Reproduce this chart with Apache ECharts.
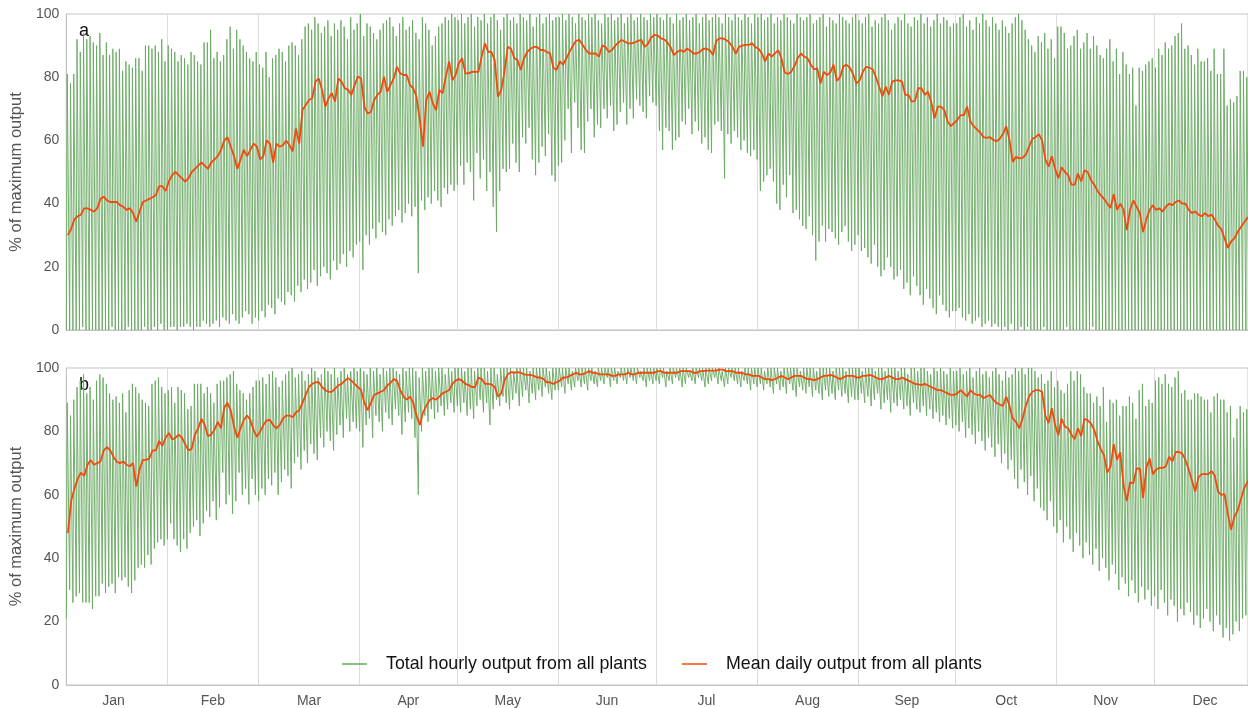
<!DOCTYPE html>
<html>
<head>
<meta charset="utf-8">
<script src="https://cdn.jsdelivr.net/npm/echarts@6/dist/echarts.min.js"></script>
<style>
  html, body { margin: 0; padding: 0; background: #fff; }
  #chart { width: 1248px; height: 708px; }
</style>
</head>
<body>
<div id="chart"></div>
<script>
const monthNames = ['Jan', 'Feb', 'Mar', 'Apr', 'May', 'Jun', 'Jul', 'Aug', 'Sep', 'Oct', 'Nov', 'Dec']
const monthStarts = [31, 59, 90, 120, 151, 181, 212, 243, 273, 304, 334]
const monthMids = [14.5, 45, 74.5, 105, 135.5, 166, 196.5, 227.5, 258, 288.5, 319, 349.5]

// panel a: daily high / low of the hourly output and the mean daily output (% of max)
const hiA = [
  81, 78, 81, 92, 88, 94, 92, 93, 91, 90, 94, 87, 91, 87, 89, 88, 89, 82, 85, 84, 83, 86, 86, 82, 90, 90, 89, 90, 88, 92, 85,
  90, 89, 88, 85, 87, 86, 84, 88, 87, 85, 84, 91, 91, 95, 86, 88, 85, 87, 92, 96, 89, 95, 92, 90, 88, 86, 85, 88,
  84, 83, 88, 80, 86, 87, 89, 88, 85, 90, 91, 90, 87, 92, 96, 97, 95, 99, 97, 94, 96, 98, 93, 97, 95, 98, 96, 92, 99, 95, 97,
  100, 93, 97, 96, 94, 92, 95, 97, 98, 99, 96, 93, 97, 99, 95, 96, 98, 94, 92, 99, 97, 95, 90, 93, 96, 97, 99, 98, 100, 99,
  98, 100, 97, 99, 100, 96, 99, 98, 100, 97, 99, 100, 98, 95, 99, 100, 98, 99, 97, 100, 99, 98, 100, 96, 99, 100, 97, 99, 100, 98, 99,
  99, 100, 98, 100, 99, 97, 100, 99, 98, 100, 99, 100, 98, 97, 100, 99, 100, 98, 99, 100, 97, 99, 100, 98, 99, 100, 99, 98, 100, 99,
  100, 99, 98, 100, 99, 97, 100, 98, 99, 100, 98, 99, 100, 97, 99, 100, 98, 99, 100, 99, 97, 100, 99, 98, 100, 99, 98, 100, 99, 97, 100,
  99, 100, 98, 99, 100, 97, 99, 98, 100, 99, 98, 97, 100, 99, 98, 99, 100, 97, 98, 99, 100, 96, 99, 98, 97, 100, 99, 98, 97, 99, 100,
  98, 97, 99, 100, 96, 98, 97, 99, 100, 98, 95, 97, 99, 98, 100, 97, 96, 99, 98, 100, 97, 99, 96, 98, 100, 97, 99, 98, 96, 97,
  97, 99, 100, 96, 98, 95, 99, 97, 100, 98, 96, 99, 97, 95, 98, 96, 94, 97, 99, 100, 98, 95, 92, 90, 88, 93, 91, 94, 89, 92, 86,
  96, 96, 94, 89, 90, 93, 95, 89, 91, 94, 89, 93, 90, 87, 86, 89, 92, 85, 89, 81, 88, 84, 81, 83, 71, 83, 82, 84, 85, 86,
  83, 89, 87, 91, 89, 90, 93, 94, 97, 89, 90, 87, 84, 89, 85, 85, 86, 82, 89, 81, 81, 89, 71, 73, 72, 74, 82, 82, 80, 82, 80
]
const loA = [
  0, 0, 0, 0, 0, 1, 0, 0, 0, 0, 0, 0, 0, 0, 1, 0, 0, 0, 0, 1, 0, 0, 0, 0, 1, 0, 0, 1, 0, 2, 0,
  0, 1, 1, 0, 1, 1, 2, 1, 0, 1, 1, 3, 2, 1, 2, 3, 1, 4, 3, 2, 5, 3, 2, 4, 6, 5, 2, 4,
  3, 6, 4, 8, 7, 5, 10, 9, 8, 12, 11, 9, 14, 12, 16, 13, 15, 19, 14, 17, 20, 18, 16, 22, 19, 21, 24, 20, 25, 23, 27,
  28, 19, 30, 27, 32, 29, 34, 31, 30, 35, 33, 36, 38, 34, 37, 40, 36, 39, 18, 41, 38, 42, 40, 44, 41, 39, 45, 43, 46, 44,
  46, 52, 46, 53, 50, 41, 56, 48, 54, 44, 50, 39, 31, 44, 51, 50, 51, 59, 53, 50, 61, 59, 64, 54, 49, 53, 58, 55, 62, 49, 47,
  52, 53, 60, 70, 56, 72, 64, 57, 56, 66, 70, 61, 65, 64, 70, 67, 71, 63, 65, 69, 72, 65, 70, 67, 73, 71, 69, 67, 74, 72,
  71, 63, 57, 64, 63, 57, 60, 61, 66, 65, 70, 62, 66, 63, 59, 61, 57, 56, 65, 66, 63, 48, 62, 59, 63, 61, 57, 60, 56, 55, 57,
  54, 44, 47, 49, 51, 47, 40, 38, 46, 42, 49, 37, 38, 35, 33, 32, 36, 30, 22, 28, 33, 28, 32, 31, 29, 27, 31, 33, 28, 25, 27,
  30, 25, 26, 23, 21, 27, 20, 17, 19, 23, 20, 16, 17, 19, 13, 15, 11, 17, 14, 11, 8, 13, 10, 7, 5, 11, 8, 6, 4, 6,
  6, 7, 4, 3, 5, 2, 3, 4, 1, 2, 3, 1, 2, 1, 0, 1, 0, 2, 0, 0, 1, 0, 1, 0, 0, 0, 0, 1, 0, 0, 0,
  0, 0, 0, 1, 0, 0, 0, 0, 0, 0, 0, 1, 0, 0, 0, 0, 0, 0, 0, 0, 0, 0, 0, 0, 0, 0, 0, 0, 0, 0,
  0, 0, 0, 0, 0, 0, 0, 0, 0, 0, 0, 0, 0, 0, 0, 0, 0, 0, 0, 0, 0, 0, 0, 0, 0, 0, 0, 0, 0, 0, 0
]
const meanA = [
  30, 32, 35, 36, 36.5, 38.5, 38.5, 38, 37.5, 38.5, 41.5, 42.2, 41, 40.5, 40.5, 40.5, 39.5, 39, 38, 38.5, 37, 34.3, 37.5, 40.5, 41, 41.5, 42, 42.7, 45.5, 45.5, 44,
  47, 49, 50, 49, 48, 47, 48, 50, 51, 52, 53, 52, 51, 53, 54, 55, 57, 60, 61, 58, 55, 51, 54, 57, 55, 57, 59, 58,
  54, 55, 60, 59, 53, 59, 58, 58.5, 60, 58.5, 56.5, 63.8, 59, 69.6, 71.2, 72.8, 73.3, 78.6, 79.6, 76, 70.7, 73.3, 75, 72.3, 79.6, 78.6, 76.5, 76, 74.4, 77.5, 80.2,
  79.6, 70.7, 68.5, 69, 72.8, 74.4, 75.4, 80.2, 75.4, 77.5, 79.6, 83.3, 81.2, 80.7, 80.7, 77.5, 76.5, 73.8, 66.5, 58, 72.8, 75.4, 71.7, 69.6, 76, 74.9, 80.2, 85, 79, 80.7,
  84.4, 86, 81.2, 81.2, 81.7, 81.7, 81.7, 86.5, 90.7, 88, 88, 85.4, 73.8, 76, 81.7, 89.6, 89, 86, 85.4, 82.3, 86, 88, 89, 89.6, 89.6, 88.6, 88.6, 88, 87.5, 83, 82.3,
  85, 84, 86, 88, 90, 91.5, 91.8, 90.2, 88.6, 87.5, 87.5, 87.5, 86.5, 90, 89.6, 88, 88.6, 90, 91, 91.8, 91.2, 90.7, 90.7, 91, 91.5, 91.8, 89.6, 90.5, 92.5, 93.4,
  93.2, 92.3, 92, 91, 89.5, 87, 88, 88.6, 88, 89, 88.5, 87.5, 87.5, 88, 89, 89, 88.5, 87, 91.5, 92.3, 92.3, 91.8, 91, 89.6, 87.5, 89.6, 90, 90.2, 90.2, 90.7, 89.5,
  89, 87.5, 85, 87.5, 86.5, 87.5, 88.6, 86, 81.5, 81, 81.7, 83.5, 86, 87.5, 86.5, 86, 84, 82.5, 82.8, 78, 81.7, 80.7, 81.5, 84, 78.8, 80, 83.5, 83.9, 83, 81, 78,
  79, 81.7, 83.3, 83, 82.5, 80, 77, 74, 77, 74.4, 78.6, 79, 79, 78.6, 74.4, 74.4, 72.3, 72.5, 76.5, 76.5, 74.4, 75.4, 72, 67, 70.7, 70.7, 69.6, 66, 64.5, 65.5,
  66.5, 68, 68, 70.7, 66, 64.5, 63.5, 62.5, 61, 60.8, 61, 60.2, 59.7, 60.5, 62, 64.5, 60, 53.2, 54.8, 54.3, 54.5, 55.5, 58, 60.5, 61, 62, 60, 54, 51.7, 55, 51,
  48, 51.5, 50, 49, 46, 46, 49.5, 47, 50.5, 50, 47.5, 46, 44, 42.7, 41.5, 40, 38.6, 43, 38, 40, 38, 31.6, 38, 41, 39, 37, 31, 35, 38, 39.5,
  38, 38.5, 37.5, 39, 40, 39.5, 40.5, 41, 40, 40, 38, 37, 37.5, 36.5, 36, 37, 36, 36.5, 35, 33, 32, 29, 26, 28, 29, 31, 32.5, 34, 35.5, 36, 37
]

// panel b
const hiB = [
  89, 85, 90, 94, 96, 98, 92, 94, 90, 96, 98, 97, 95, 92, 90, 91, 89, 92, 86, 93, 95, 94, 92, 90, 89, 88, 95, 96, 97, 94, 92,
  93, 94, 89, 94, 93, 92, 87, 88, 95, 95, 95, 92, 94, 92, 89, 95, 96, 96, 97, 98, 99, 95, 93, 92, 90, 92, 94, 96,
  96, 97, 95, 98, 99, 97, 94, 96, 98, 99, 100, 97, 98, 99, 96, 98, 100, 99, 97, 98, 100, 99, 98, 100, 97, 99, 100, 98, 99, 100, 99,
  100, 99, 98, 100, 99, 100, 98, 100, 99, 100, 100, 99, 98, 100, 99, 100, 100, 99, 97, 100, 99, 100, 100, 99, 100, 100, 98, 100, 99, 100,
  100, 100, 99, 100, 100, 99, 100, 100, 100, 99, 100, 100, 98, 100, 100, 100, 100, 99, 100, 100, 100, 100, 99, 100, 100, 100, 100, 100, 99, 100, 100,
  100, 100, 100, 100, 99, 100, 100, 100, 100, 100, 100, 99, 100, 100, 100, 100, 100, 100, 99, 100, 100, 100, 100, 100, 100, 99, 100, 100, 100, 100,
  100, 100, 100, 99, 100, 100, 100, 100, 100, 100, 99, 100, 100, 100, 100, 100, 100, 100, 100, 100, 99, 100, 100, 100, 100, 100, 99, 100, 100, 100, 100,
  100, 100, 99, 100, 100, 100, 100, 99, 100, 100, 100, 100, 100, 99, 100, 100, 100, 100, 99, 100, 100, 100, 100, 99, 100, 100, 100, 99, 100, 100, 100,
  100, 99, 100, 100, 100, 99, 100, 100, 99, 100, 100, 100, 99, 100, 100, 98, 100, 100, 99, 100, 100, 99, 98, 100, 99, 100, 99, 98, 100, 99,
  99, 100, 98, 99, 100, 97, 99, 100, 98, 99, 97, 99, 100, 98, 96, 99, 97, 98, 100, 99, 100, 98, 100, 100, 99, 97, 98, 95, 96, 99, 94,
  96, 93, 92, 95, 99, 96, 99, 98, 94, 92, 92, 89, 91, 88, 94, 83, 90, 89, 90, 85, 88, 88, 91, 89, 84, 93, 95, 88, 90, 89,
  96, 97, 95, 98, 95, 94, 97, 99, 92, 93, 90, 90, 92, 92, 91, 90, 90, 86, 91, 92, 90, 90, 86, 88, 78, 84, 88, 86, 87, 86, 86
]
const loB = [
  21, 30, 26, 28, 29, 26, 26, 26, 24, 28, 28, 32, 29, 31, 32, 29, 34, 33, 34, 31, 29, 33, 37, 38, 37, 41, 38, 43, 45, 46, 44,
  46, 51, 46, 44, 42, 46, 43, 48, 50, 52, 47, 51, 55, 53, 58, 52, 56, 67, 57, 60, 54, 58, 67, 60, 62, 57, 65, 60,
  58, 62, 60, 65, 63, 67, 60, 64, 68, 66, 62, 70, 72, 68, 74, 70, 76, 73, 71, 78, 75, 80, 77, 74, 79, 82, 78, 84, 80, 83, 81,
  80, 75, 82, 84, 78, 85, 83, 80, 86, 84, 82, 87, 85, 79, 83, 86, 84, 78, 60, 80, 85, 83, 87, 84, 86, 88, 85, 87, 89, 86,
  88, 86, 89, 85, 87, 84, 88, 90, 86, 89, 82, 87, 90, 88, 91, 89, 87, 90, 92, 88, 91, 93, 89, 92, 90, 93, 91, 94, 92, 90, 93,
  93, 94, 92, 95, 93, 94, 96, 94, 95, 93, 96, 95, 94, 96, 95, 97, 94, 96, 95, 97, 96, 95, 97, 96, 95, 97, 96, 94, 96, 95,
  96, 95, 97, 94, 96, 95, 97, 96, 94, 95, 97, 96, 95, 97, 96, 94, 95, 96, 97, 95, 96, 94, 95, 97, 96, 95, 94, 96, 95, 93, 95,
  94, 95, 93, 95, 94, 92, 95, 93, 94, 92, 95, 93, 91, 94, 93, 92, 94, 91, 93, 92, 90, 93, 91, 92, 90, 93, 91, 92, 89, 91, 90,
  90, 92, 89, 91, 88, 90, 92, 87, 89, 90, 86, 89, 88, 90, 87, 88, 85, 89, 87, 86, 88, 85, 87, 84, 86, 83, 85, 82, 84, 81,
  82, 80, 83, 78, 81, 79, 76, 80, 77, 74, 78, 75, 72, 76, 70, 73, 68, 71, 65, 62, 68, 64, 60, 66, 58, 62, 56, 55, 52, 58, 50,
  48, 52, 45, 50, 46, 42, 48, 44, 40, 45, 41, 38, 43, 36, 40, 37, 33, 38, 35, 30, 34, 32, 28, 33, 29, 26, 31, 27, 30, 25,
  28, 24, 30, 26, 22, 27, 25, 20, 24, 22, 26, 23, 19, 22, 18, 21, 24, 20, 17, 22, 19, 15, 18, 14, 16, 20, 17, 21, 22, 20, 21
]
const meanB = [
  48, 58, 62, 65, 67, 66, 69.4, 71, 69.5, 70, 70.5, 74, 75, 74, 72, 70.4, 70, 70.5, 69.5, 69, 70, 62.6, 68, 71, 71, 71.5, 74, 74, 77, 75.5, 78,
  79.5, 77.5, 78, 79, 78, 76, 74, 74.5, 79, 81, 84, 82, 78.5, 79, 80.5, 83, 81, 87.5, 89, 86.5, 81.5, 78, 81, 83.6, 85, 83.6, 80.4, 78.3,
  80, 82, 83.5, 83.6, 82, 81, 82, 84, 85, 85, 84.5, 86, 86.7, 89, 91.5, 94, 95, 95.5, 95.5, 94, 93, 92.5, 92.5, 93.5, 94.5, 95, 96, 96.8, 96, 95, 94,
  93, 89, 86.7, 89, 91.5, 92, 92.5, 93, 94.5, 95.3, 96.5, 96, 93, 91, 90, 91, 89, 85, 82, 86, 88, 89.9, 90.5, 90, 91, 92, 92.5, 93, 95, 96,
  96.5, 96, 95, 94.6, 94, 94, 97, 96.5, 95, 95, 94.8, 94, 91, 92, 96, 98, 98.7, 98.5, 98.7, 98.5, 98, 97.8, 97.8, 97.5, 97, 97, 96.5, 95.5, 95.5, 95, 95.5,
  96, 97, 97, 97.5, 98, 98.5, 98, 98, 98.5, 99, 98.5, 98.5, 98, 98, 98, 98, 97.5, 97.5, 98, 98, 98, 98.5, 98, 98, 98.5, 98.5, 98.5, 98.5, 98.5, 98.5,
  99, 99, 98.5, 98.5, 98.5, 98.5, 98.5, 99, 99, 99, 99, 98.5, 98.5, 99, 99, 99.2, 99.2, 99.2, 99.2, 99.5, 99.5, 99, 99, 99, 98.5, 98.5, 98.5, 98, 98, 97.5, 97.5,
  97.5, 97, 96.5, 96.5, 96.2, 96.5, 97, 97.5, 97, 96.5, 97, 97.5, 97.5, 97.5, 97, 96.5, 96.5, 96.2, 96.5, 97, 97.5, 97.5, 97.8, 97.5, 97, 96.5, 97, 97.5, 97.5, 97.5, 97,
  97, 97.5, 97.5, 97.8, 97.5, 97, 96.5, 96.5, 97, 97.5, 97, 96.5, 96.5, 97, 96.5, 96, 95.5, 95, 94.8, 94.6, 95, 94.5, 94, 93.5, 93, 93, 92.5, 92, 91.5, 91.5,
  92, 93, 92, 91, 93, 92, 91.5, 91.5, 90.5, 91, 91.5, 90, 89, 88.5, 88, 91, 88, 84, 83, 81, 84, 88, 91, 92.5, 93, 93, 92.5, 85, 82.6, 87.3, 82,
  78.8, 84, 81.5, 81, 79, 77.5, 81, 78.5, 84, 83.5, 82.5, 80.5, 77, 74.5, 72.5, 67, 68.9, 76, 71, 73.5, 63, 58, 64, 63.6, 68.3, 68.3, 59, 68.5, 71.5, 66.5,
  68, 68.5, 68.5, 69, 72, 70.5, 73.5, 73.5, 73, 71, 68, 64.5, 61, 65.5, 66.5, 66.5, 66.5, 67.5, 66, 61, 60, 60.2, 54, 49, 53, 55, 58.5, 62, 64, 65, 66
]

const hourlyName = 'Total hourly output from all plants'
const meanName = 'Mean daily output from all plants'
const greenColor = '#67a961'
const orangeColor = '#f2490c'
const gridColor = '#c4c4c4'
const labelColor = '#555'
const fontFamily = 'Liberation Sans, Arial, sans-serif'

// each day: a low point then the day's high
function dailySwing(lo, hi) {
  const out = []
  for (let d = 0; d < lo.length; d++) {
    out.push([d + 0.05, lo[d]])
    out.push([d + 0.3, hi[d]])
  }
  return out
}

function dailyMean(mean) {
  return mean.map((v, d) => [d + 0.5, v])
}

function xAxisFor(gridIndex, showLabels) {
  return {
    type: 'value',
    gridIndex: gridIndex,
    min: 0,
    max: 362.7,
    axisLine: { show: true, lineStyle: { color: gridColor } },
    axisTick: { show: false, customValues: monthStarts },
    splitLine: { show: true, lineStyle: { color: '#dcdcdc', width: 1 } },
    axisLabel: {
      show: showLabels,
      customValues: monthMids,
      formatter: function(v) {
        return monthNames[monthMids.indexOf(v)]
      },
      color: labelColor,
      fontSize: 14,
      fontFamily: fontFamily,
      margin: 9
    }
  }
}

function yAxisFor(gridIndex) {
  return {
    type: 'value',
    gridIndex: gridIndex,
    min: 0,
    max: 100,
    interval: 20,
    name: '% of maximum output',
    nameLocation: 'middle',
    nameGap: 36,
    nameTextStyle: { color: labelColor, fontSize: 16.5, fontFamily: fontFamily },
    axisLine: { show: true, lineStyle: { color: gridColor } },
    axisTick: { show: false },
    splitLine: { show: false },
    axisLabel: { color: labelColor, fontSize: 14, fontFamily: fontFamily, margin: 7 }
  }
}

function hourlySeries(idx, lo, hi) {
  return {
    name: hourlyName,
    type: 'line',
    xAxisIndex: idx,
    yAxisIndex: idx,
    showSymbol: false,
    symbol: 'none',
    silent: true,
    animation: false,
    z: 2,
    lineStyle: { color: greenColor, width: 1, opacity: 0.9 },
    itemStyle: { color: greenColor },
    data: dailySwing(lo, hi)
  }
}

function meanSeries(idx, mean) {
  return {
    name: meanName,
    type: 'line',
    xAxisIndex: idx,
    yAxisIndex: idx,
    showSymbol: false,
    symbol: 'none',
    silent: true,
    animation: false,
    z: 3,
    lineStyle: { color: orangeColor, width: 1.8 },
    itemStyle: { color: orangeColor },
    data: dailyMean(mean)
  }
}

const chart = echarts.init(document.getElementById('chart'), null, { renderer: 'canvas' })
chart.setOption({
  backgroundColor: '#fff',
  animation: false,
  textStyle: { fontFamily: fontFamily },
  grid: [
    { left: 66, right: -2, top: 14, height: 316, show: true, borderColor: gridColor, borderWidth: 1 },
    { left: 66, right: -2, top: 368, height: 317, show: true, borderColor: gridColor, borderWidth: 1 }
  ],
  xAxis: [xAxisFor(0, false), xAxisFor(1, true)],
  yAxis: [yAxisFor(0), yAxisFor(1)],
  legend: {
    data: [hourlyName, meanName],
    left: 337,
    top: 650,
    icon: 'rect',
    itemWidth: 25,
    itemHeight: 1.5,
    itemGap: 35,
    textStyle: { color: '#111', fontSize: 17.8, fontFamily: fontFamily, padding: [0, 0, 0, 14] }
  },
  graphic: [
    { type: 'text', left: 79, top: 22, style: { text: 'a', fontSize: 18, fill: '#111', fontFamily: fontFamily } },
    { type: 'text', left: 79, top: 376, style: { text: 'b', fontSize: 18, fill: '#111', fontFamily: fontFamily } }
  ],
  series: [
    hourlySeries(0, loA, hiA),
    meanSeries(0, meanA),
    hourlySeries(1, loB, hiB),
    meanSeries(1, meanB)
  ]
})
</script>
</body>
</html>
